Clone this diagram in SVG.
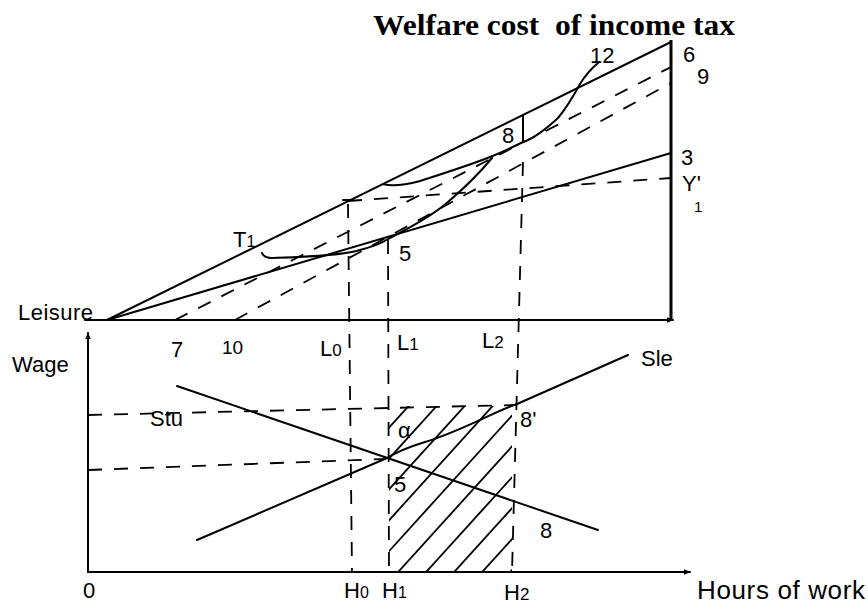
<svg xmlns="http://www.w3.org/2000/svg" width="868" height="610" viewBox="0 0 868 610">
<style>
.s{fill:none;stroke:#000;stroke-width:2;stroke-linecap:round;stroke-linejoin:round}
.t{fill:none;stroke:#000;stroke-width:3}
.d{fill:none;stroke:#000;stroke-width:1.8;stroke-dasharray:14 12}
.h{fill:none;stroke:#000;stroke-width:1.8}
.lab{font-family:"Liberation Sans","DejaVu Sans",sans-serif;font-size:22px;fill:#000}
.title{font-family:"Liberation Serif","Times New Roman",serif;font-weight:bold;font-size:30px;fill:#000}
</style>
<defs>
<marker id="arr" viewBox="0 0 10 10" refX="9" refY="5" markerWidth="7" markerHeight="7" orient="auto" markerUnits="userSpaceOnUse">
<path d="M0,1 L10,5 L0,9 z" fill="#000"/>
</marker>
<clipPath id="hc"><rect x="389" y="406" width="123" height="166"/></clipPath>
</defs>
<rect width="868" height="610" fill="#fff"/>
<text class="title" x="373" y="35" xml:space="preserve" textLength="362" lengthAdjust="spacingAndGlyphs">Welfare cost  of income tax</text>

<g id="top-panel">
<line class="s" x1="85" y1="320" x2="673" y2="320" marker-end="url(#arr)"/>
<line class="t" x1="671" y1="40" x2="671" y2="320"/>
<line class="s" x1="107" y1="320" x2="671" y2="42"/>
<line class="s" x1="107" y1="320" x2="671" y2="153"/>
<line class="d" x1="175" y1="320" x2="671" y2="67"/>
<line class="d" x1="235" y1="320" x2="671" y2="83"/>
<line class="d" x1="348" y1="201" x2="671" y2="178"/>
<path id="I1" class="s" d="M262,253 Q264,258 272,258 C300,257 340,256 360,250 C375,246 382,243 388,239 C405,230 430,218 448,202 C462,190 478,175 492,158"/>
<path id="I2" class="s" d="M383,184 C392,187 405,185 420,181 C445,173 470,165 490,157 C505,151 515,146 523,142 C535,138 545,130 558,118 C568,106 574,95 580,84 C586,74 592,68 599,62"/>
<line class="s" x1="523" y1="115" x2="523" y2="142"/>
<line class="s" x1="343" y1="200" x2="353" y2="200"/>
</g>

<g id="bottom-panel">
<line class="s" x1="88" y1="572" x2="88" y2="333" marker-end="url(#arr)"/>
<line class="s" x1="88" y1="572" x2="690" y2="572" marker-end="url(#arr)"/>
<g clip-path="url(#hc)">
<line class="h" x1="250" y1="581" x2="415" y2="399"/>
<line class="h" x1="278" y1="581" x2="443" y2="399"/>
<line class="h" x1="306" y1="581" x2="471" y2="399"/>
<line class="h" x1="334" y1="581" x2="499" y2="399"/>
<line class="h" x1="362" y1="581" x2="527" y2="399"/>
<line class="h" x1="390" y1="581" x2="555" y2="399"/>
<line class="h" x1="418" y1="581" x2="583" y2="399"/>
<line class="h" x1="446" y1="581" x2="611" y2="399"/>
<line class="h" x1="474" y1="581" x2="639" y2="399"/>
<line class="h" x1="502" y1="581" x2="667" y2="399"/>
</g>
<line class="d" x1="88" y1="415" x2="517" y2="405"/>
<line class="d" x1="88" y1="470" x2="385" y2="459"/>
<line class="s" x1="177" y1="386" x2="598" y2="530"/>
<path class="s" d="M197,540 L387,458 C400,450 412,446 425,442 C445,436 462,428 480,420 C495,413 505,408 517,404 L628,355"/>
</g>

<g id="guides">
<line class="d" x1="348" y1="204" x2="352" y2="572"/>
<line class="d" x1="388" y1="240" x2="389" y2="572"/>
<line class="d" x1="523" y1="162" x2="512" y2="572"/>
</g>

<g id="labels">
<text class="lab" x="590" y="63">12</text>
<text class="lab" x="683" y="62">6</text>
<text class="lab" x="697" y="84">9</text>
<text class="lab" x="681" y="165">3</text>
<text class="lab" x="682" y="191">Y'</text>
<text class="lab" x="694" y="212" style="font-size:15px">1</text>
<text class="lab" x="233" y="247">T<tspan style="font-size:16px">1</tspan></text>
<text class="lab" x="399" y="261">5</text>
<text class="lab" x="502" y="143">8</text>
<text class="lab" x="18" y="320" textLength="75">Leisure</text>
<text class="lab" x="171" y="357">7</text>
<text class="lab" x="222" y="354" style="font-size:19px">10</text>
<text class="lab" x="320" y="356">L<tspan style="font-size:17px">0</tspan></text>
<text class="lab" x="397" y="350">L<tspan style="font-size:17px">1</tspan></text>
<text class="lab" x="482" y="348">L<tspan style="font-size:17px">2</tspan></text>
<text class="lab" x="12" y="372">Wage</text>
<text class="lab" x="150" y="426">Stu</text>
<text class="lab" x="398" y="438">α</text>
<text class="lab" x="394" y="492">5</text>
<text class="lab" x="520" y="427">8'</text>
<text class="lab" x="540" y="538">8</text>
<text class="lab" x="641" y="366">Sle</text>
<text class="lab" x="83" y="598">0</text>
<text class="lab" x="344" y="598">H<tspan style="font-size:16px">0</tspan></text>
<text class="lab" x="382" y="598">H<tspan style="font-size:16px">1</tspan></text>
<text class="lab" x="504" y="600">H<tspan style="font-size:17px">2</tspan></text>
<text class="lab" x="697" y="599" style="font-size:26px" textLength="168">Hours of work</text>
</g>
</svg>
